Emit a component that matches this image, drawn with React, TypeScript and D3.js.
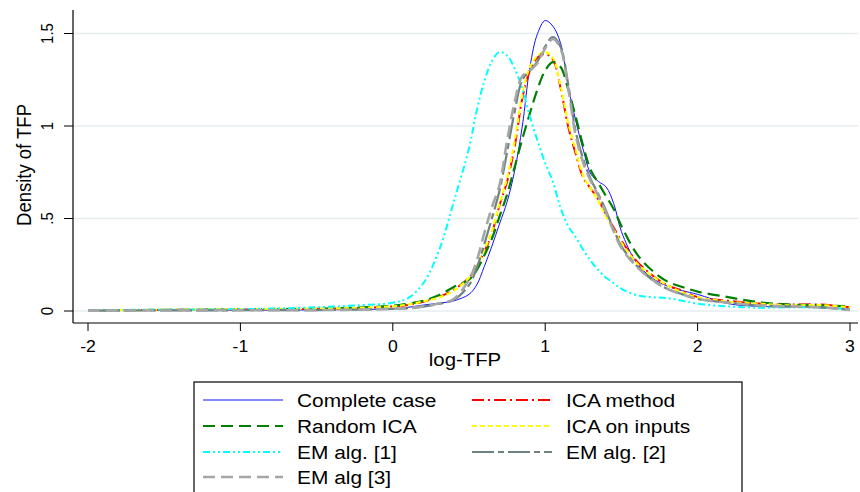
import React, { useEffect, useRef } from 'react';
import * as d3 from 'd3';

// log-TFP grid the densities were read at
const xGrid = [-2, -1.5, -1, -0.5, -0.25, 0, 0.1, 0.2, 0.3, 0.4, 0.5, 0.55, 0.6, 0.65, 0.7, 0.75, 0.8, 0.85, 0.9, 0.95,
  1.0, 1.05, 1.1, 1.15, 1.2, 1.25, 1.3, 1.35, 1.4, 1.45, 1.5, 1.6, 1.7, 1.8, 1.9, 2.0, 2.2, 2.4, 2.6, 2.8, 3.0];

const completeCase = [0.003, 0.004, 0.005, 0.006, 0.008, 0.012, 0.02, 0.032, 0.042, 0.055, 0.09, 0.14, 0.24, 0.35, 0.47, 0.59, 0.76, 1.0, 1.32, 1.5,
  1.57, 1.54, 1.45, 1.22, 1.03, 0.87, 0.74, 0.7, 0.67, 0.58, 0.43, 0.26, 0.18, 0.135, 0.11, 0.09, 0.04, 0.025, 0.022, 0.022, 0.01];
const icaMethod = [0.004, 0.006, 0.008, 0.012, 0.015, 0.025, 0.033, 0.05, 0.075, 0.115, 0.18, 0.24, 0.32, 0.42, 0.57, 0.7, 0.89, 1.15, 1.3, 1.37,
  1.39, 1.36, 1.21, 1.0, 0.85, 0.72, 0.66, 0.6, 0.52, 0.45, 0.38, 0.27, 0.195, 0.14, 0.11, 0.075, 0.055, 0.04, 0.035, 0.035, 0.02];
const randomIca = [0.004, 0.006, 0.008, 0.012, 0.018, 0.028, 0.04, 0.055, 0.085, 0.13, 0.17, 0.22, 0.3, 0.39, 0.51, 0.63, 0.78, 0.93, 1.07, 1.2,
  1.3, 1.345, 1.32, 1.2, 1.05, 0.89, 0.76, 0.69, 0.62, 0.55, 0.46, 0.31, 0.22, 0.16, 0.13, 0.105, 0.075, 0.048, 0.035, 0.03, 0.025];
const icaInputs = [0.004, 0.006, 0.01, 0.013, 0.016, 0.025, 0.035, 0.052, 0.072, 0.11, 0.18, 0.24, 0.33, 0.43, 0.58, 0.72, 0.92, 1.17, 1.32, 1.38,
  1.4, 1.37, 1.22, 1.02, 0.87, 0.73, 0.66, 0.59, 0.51, 0.44, 0.37, 0.26, 0.19, 0.14, 0.1, 0.075, 0.05, 0.04, 0.03, 0.032, 0.02];
const emAlg1 = [0.005, 0.007, 0.01, 0.02, 0.03, 0.045, 0.07, 0.15, 0.32, 0.59, 0.88, 1.08, 1.24, 1.35, 1.4, 1.38, 1.31, 1.2, 1.05, 0.92,
  0.8, 0.7, 0.56, 0.46, 0.4, 0.33, 0.27, 0.22, 0.18, 0.15, 0.12, 0.085, 0.075, 0.07, 0.055, 0.04, 0.025, 0.018, 0.02, 0.018, 0.01];
const emAlg2 = [0.002, 0.003, 0.004, 0.005, 0.007, 0.012, 0.015, 0.024, 0.038, 0.06, 0.14, 0.23, 0.36, 0.5, 0.65, 0.86, 1.08, 1.25, 1.3, 1.35,
  1.43, 1.48, 1.43, 1.23, 0.97, 0.82, 0.71, 0.63, 0.54, 0.44, 0.35, 0.245, 0.17, 0.12, 0.09, 0.065, 0.045, 0.03, 0.025, 0.02, 0.006];
const emAlg3 = [0.002, 0.003, 0.004, 0.005, 0.007, 0.012, 0.015, 0.025, 0.04, 0.065, 0.17, 0.27, 0.42, 0.56, 0.68, 0.92, 1.13, 1.27, 1.3, 1.34,
  1.42, 1.47, 1.42, 1.21, 0.95, 0.8, 0.7, 0.62, 0.53, 0.43, 0.34, 0.24, 0.17, 0.12, 0.09, 0.065, 0.045, 0.03, 0.025, 0.02, 0.006];

const seriesNames = ['Complete case', 'ICA method', 'Random ICA', 'ICA on inputs', 'EM alg. [1]', 'EM alg. [2]', 'EM alg [3]'];
const seriesValues = [completeCase, icaMethod, randomIca, icaInputs, emAlg1, emAlg2, emAlg3];

const xTicks = [-2, -1, 0, 1, 2, 3];
const yTicks = [0, 0.5, 1, 1.5];
const yTickLabels = ['0', '.5', '1', '1.5'];

// legend order (two columns)
const legendOrder = ['Complete case', 'ICA method', 'Random ICA', 'ICA on inputs', 'EM alg. [1]', 'EM alg. [2]', 'EM alg [3]'];

const styles = {
  'Complete case': { color: '#1010ff', width: 1, dash: null },
  'ICA method': { color: '#ff0000', width: 2, dash: '12 4 2 4' },
  'Random ICA': { color: '#008000', width: 2.2, dash: '12 6' },
  'ICA on inputs': { color: '#ffff00', width: 2.2, dash: '5 3' },
  'EM alg. [1]': { color: '#00ffff', width: 2, dash: '7 3 2 3 2 3' },
  'EM alg. [2]': { color: '#6e8282', width: 2.2, dash: '22 4 6 4' },
  'EM alg [3]': { color: '#a6a6a6', width: 2.6, dash: '12 6' },
};

const FONT = '"Liberation Sans", Arial, sans-serif';

const App = () => {
  const chartRef = useRef(null);

  useEffect(() => {
    const width = 860;
    const height = 492;

    const xScale = d3.scaleLinear().domain([-2, 3]).range([88, 850]);
    const yScale = d3.scaleLinear().domain([0, 1.5]).range([311, 33.5]);

    const svg = d3.select(chartRef.current)
      .append('svg')
      .attr('width', width)
      .attr('height', height)
      .style('position', 'absolute')
      .style('left', 0)
      .style('top', 0)
      .style('background', '#fff');

    // gridlines
    svg.selectAll('.grid')
      .data(yTicks)
      .enter()
      .append('line')
      .attr('x1', 73)
      .attr('x2', 858)
      .attr('y1', (d) => yScale(d))
      .attr('y2', (d) => yScale(d))
      .attr('stroke', '#e6eef0')
      .attr('stroke-width', 1.5);

    // density curves
    const line = d3.line()
      .x((d) => xScale(d[0]))
      .y((d) => yScale(d[1]))
      .curve(d3.curveCatmullRom.alpha(0.5));

    seriesNames.forEach((name, i) => {
      const st = styles[name];
      const pts = xGrid.map((x, j) => [x, seriesValues[i][j]]);
      svg.append('path')
        .attr('d', line(pts))
        .attr('fill', 'none')
        .attr('stroke', st.color)
        .attr('stroke-width', st.width)
        .attr('stroke-dasharray', st.dash)
        .attr('stroke-linejoin', 'round');
    });

    // axes
    svg.append('line').attr('x1', 73).attr('x2', 73).attr('y1', 10).attr('y2', 323)
      .attr('stroke', '#000').attr('stroke-width', 1.2);
    svg.append('line').attr('x1', 73).attr('x2', 858).attr('y1', 323).attr('y2', 323)
      .attr('stroke', '#000').attr('stroke-width', 1.2);

    svg.selectAll('.ytick')
      .data(yTicks)
      .enter()
      .append('line')
      .attr('x1', 64)
      .attr('x2', 73)
      .attr('y1', (d) => yScale(d))
      .attr('y2', (d) => yScale(d))
      .attr('stroke', '#000');

    svg.selectAll('.ylab')
      .data(yTicks)
      .enter()
      .append('text')
      .attr('transform', (d) => `translate(53,${yScale(d)}) scale(1.12,1) rotate(-90)`)
      .attr('text-anchor', 'middle')
      .style('font-family', FONT)
      .style('font-size', '15px')
      .text((d, i) => yTickLabels[i]);

    svg.selectAll('.xtick')
      .data(xTicks)
      .enter()
      .append('line')
      .attr('x1', (d) => xScale(d))
      .attr('x2', (d) => xScale(d))
      .attr('y1', 323)
      .attr('y2', 331)
      .attr('stroke', '#000');

    svg.selectAll('.xlab')
      .data(xTicks)
      .enter()
      .append('text')
      .attr('transform', (d) => `translate(${xScale(d)},352) scale(1.1,1)`)
      .attr('text-anchor', 'middle')
      .style('font-family', FONT)
      .style('font-size', '16px')
      .text((d) => d);

    svg.append('text')
      .attr('transform', 'translate(31,165) scale(1.1,1) rotate(-90)')
      .attr('text-anchor', 'middle')
      .style('font-family', FONT)
      .style('font-size', '18.5px')
      .text('Density of TFP');

    svg.append('text')
      .attr('transform', 'translate(465,366) scale(1.1,1)')
      .attr('text-anchor', 'middle')
      .style('font-family', FONT)
      .style('font-size', '18.5px')
      .text('log-TFP');

    // legend
    svg.append('rect')
      .attr('x', 194)
      .attr('y', 382)
      .attr('width', 548)
      .attr('height', 120)
      .attr('fill', '#fff')
      .attr('stroke', '#000')
      .attr('stroke-width', 1.2);

    const rowY = [400, 426, 452, 477];
    legendOrder.forEach((name, k) => {
      const st = styles[name];
      const col = k % 2;
      const row = Math.floor(k / 2);
      const lx = col === 0 ? 203 : 472;
      const y = rowY[row];
      svg.append('line')
        .attr('x1', lx)
        .attr('x2', lx + 80)
        .attr('y1', y)
        .attr('y2', y)
        .attr('stroke', st.color)
        .attr('stroke-width', st.width)
        .attr('stroke-dasharray', st.dash);
      svg.append('text')
        .attr('transform', `translate(${lx + 94},${y + 7}) scale(1.1,1)`)
        .style('font-family', FONT)
        .style('font-size', '19px')
        .text(name);
    });

    return () => {
      svg.remove();
    };
  }, []);

  return <div ref={chartRef}></div>;
};

export default App;
